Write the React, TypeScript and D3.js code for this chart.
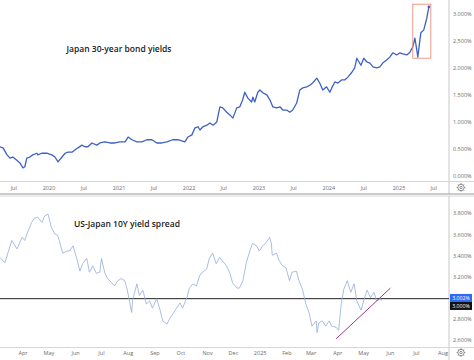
import React from "react";
import * as d3 from "d3";

// ---------- Japan 30-year bond yield (%) ----------
const jgbDates = [
  "2019-04-20","2019-05-06","2019-05-27","2019-06-11","2019-06-26","2019-07-17","2019-08-02","2019-08-18","2019-08-28","2019-09-07",
  "2019-09-23","2019-10-08","2019-10-30","2019-11-04","2019-11-24","2019-12-20","2020-01-16","2020-02-01","2020-02-17","2020-03-09",
  "2020-03-25","2020-04-09","2020-04-30","2020-05-15","2020-05-31","2020-06-21","2020-07-07","2020-07-22","2020-08-12","2020-09-07",
  "2020-09-23","2020-10-19","2020-11-14","2020-12-10","2021-01-06","2021-02-01","2021-02-17","2021-03-09","2021-04-04","2021-04-30",
  "2021-05-26","2021-06-21","2021-07-17","2021-08-12","2021-09-07","2021-10-08","2021-11-04","2021-12-10","2021-12-26","2022-01-16",
  "2022-02-01","2022-02-17","2022-02-27","2022-03-14","2022-04-04","2022-04-20","2022-05-06","2022-05-26","2022-06-11","2022-06-26",
  "2022-07-17","2022-08-02","2022-08-18","2022-09-07","2022-09-23","2022-10-08","2022-10-19","2022-11-04","2022-11-24","2022-11-30",
  "2022-12-10","2022-12-26","2023-01-06","2023-01-21","2023-02-11","2023-02-27","2023-03-14","2023-04-04","2023-04-20","2023-05-06",
  "2023-05-26","2023-06-11","2023-06-26","2023-07-17","2023-08-02","2023-08-18","2023-09-07","2023-09-23","2023-10-08","2023-10-30",
  "2023-11-14","2023-11-30","2023-12-20","2024-01-06","2024-01-16","2024-02-01","2024-02-17","2024-03-09","2024-03-25","2024-04-09",
  "2024-04-30","2024-05-15","2024-05-26","2024-06-16","2024-07-01","2024-07-17","2024-08-02","2024-08-18","2024-09-07","2024-09-23",
  "2024-10-08","2024-10-30","2024-11-14","2024-11-30","2024-12-20","2025-01-06","2025-01-21","2025-02-11","2025-02-27","2025-03-14",
  "2025-03-25","2025-04-04","2025-04-09","2025-04-25","2025-05-10","2025-05-26","2025-06-06"
];
const jgbValues = [
  0.56,0.54,0.41,0.35,0.37,0.31,0.26,0.17,0.19,0.35,
  0.37,0.41,0.44,0.41,0.44,0.44,0.41,0.37,0.28,0.37,
  0.44,0.46,0.46,0.50,0.54,0.59,0.56,0.56,0.63,0.59,
  0.63,0.65,0.63,0.63,0.65,0.65,0.74,0.69,0.65,0.65,
  0.69,0.69,0.63,0.63,0.65,0.69,0.69,0.65,0.74,0.78,
  0.91,0.93,0.87,0.93,0.96,1.00,0.96,1.02,1.30,1.28,
  1.20,1.15,1.09,1.28,1.30,1.43,1.57,1.46,1.39,1.48,
  1.39,1.57,1.61,1.56,1.52,1.43,1.30,1.28,1.30,1.24,
  1.24,1.20,1.24,1.37,1.61,1.65,1.67,1.70,1.74,1.83,
  1.74,1.61,1.67,1.57,1.65,1.76,1.74,1.80,1.80,1.85,
  1.94,2.02,2.20,2.07,2.20,2.13,2.11,2.04,2.02,2.04,
  2.11,2.17,2.22,2.30,2.26,2.30,2.28,2.26,2.31,2.41,
  2.57,2.35,2.22,2.67,2.72,2.94,3.15
];
const jgbTicks = [0, 0.5, 1.0, 1.5, 2.0, 2.5, 3.0];
const topTimeLabels = ["Jul","2020","Jul","2021","Jul","2022","Jul","2023","Jul","2024","Jul","2025","Jul"];
const topTimeDates = ["2019-07-01","2020-01-01","2020-07-01","2021-01-01","2021-07-01","2022-01-01","2022-07-01","2023-01-01","2023-07-01","2024-01-01","2024-07-01","2025-01-01","2025-07-01"];
const highlightDates = ["2025-03-14","2025-06-16"];
const highlightValues = [2.2, 3.2];

// ---------- US-Japan 10Y yield spread (%) ----------
const spreadDates = [
  "2024-03-05","2024-03-11","2024-03-19","2024-03-25","2024-03-31","2024-04-03","2024-04-06","2024-04-11","2024-04-14","2024-04-18",
  "2024-04-23","2024-04-26","2024-04-30","2024-05-04","2024-05-08","2024-05-11","2024-05-13","2024-05-17","2024-05-22","2024-05-25",
  "2024-05-29","2024-06-02","2024-06-06","2024-06-09","2024-06-14","2024-06-17","2024-06-21","2024-06-25","2024-06-29","2024-07-01",
  "2024-07-05","2024-07-08","2024-07-13","2024-07-16","2024-07-20","2024-07-24","2024-07-28","2024-07-31","2024-08-05","2024-08-06",
  "2024-08-11","2024-08-14","2024-08-18","2024-08-22","2024-08-26","2024-08-29","2024-09-03","2024-09-07","2024-09-10","2024-09-15",
  "2024-09-18","2024-09-22","2024-09-26","2024-09-30","2024-10-03","2024-10-08","2024-10-11","2024-10-15","2024-10-19","2024-10-23",
  "2024-10-26","2024-10-31","2024-11-03","2024-11-07","2024-11-11","2024-11-15","2024-11-18","2024-11-23","2024-11-27","2024-11-30",
  "2024-12-05","2024-12-08","2024-12-12","2024-12-16","2024-12-20","2024-12-23","2024-12-28","2024-12-31","2025-01-04","2025-01-08",
  "2025-01-12","2025-01-14","2025-01-15","2025-01-20","2025-01-23","2025-01-27","2025-01-31","2025-02-04","2025-02-07","2025-02-12",
  "2025-02-15","2025-02-19","2025-02-23","2025-02-27","2025-03-02","2025-03-07","2025-03-08","2025-03-10","2025-03-14","2025-03-18",
  "2025-03-22","2025-03-25","2025-03-30","2025-04-02","2025-04-05","2025-04-08","2025-04-12","2025-04-16","2025-04-20","2025-04-23",
  "2025-04-28","2025-05-01","2025-05-05","2025-05-09","2025-05-13","2025-05-16","2025-05-21","2025-05-22"
];
const spreadValues = [
  3.39,3.34,3.55,3.47,3.58,3.55,3.62,3.72,3.76,3.77,
  3.72,3.78,3.80,3.67,3.61,3.60,3.55,3.43,3.45,3.45,
  3.50,3.39,3.26,3.33,3.38,3.25,3.31,3.24,3.25,3.38,
  3.24,3.19,3.15,3.12,3.17,3.19,3.17,3.08,2.87,2.98,
  3.14,3.03,3.08,2.95,2.98,2.91,3.00,2.89,2.79,2.76,
  2.81,2.86,2.91,2.96,2.91,3.01,3.10,3.14,3.12,3.22,
  3.25,3.28,3.38,3.43,3.33,3.39,3.36,3.31,3.24,3.15,
  3.10,3.10,3.17,3.34,3.45,3.52,3.50,3.45,3.50,3.53,
  3.58,3.52,3.41,3.43,3.36,3.31,3.29,3.17,3.25,3.26,
  3.17,3.09,2.95,2.86,2.74,2.79,2.68,2.77,2.79,2.74,
  2.79,2.74,2.73,2.70,2.95,3.09,3.17,3.06,3.14,2.98,
  2.89,2.98,3.08,3.01,3.06,2.98,3.00,2.98
];
const spreadTicks = [2.6, 2.8, 3.2, 3.4, 3.6, 3.8];
const spreadLevel = 3.0;
const spreadLastTag = 3.002;
const bottomTimeLabels = ["Apr","May","Jun","Jul","Aug","Sep","Oct","Nov","Dec","2025","Feb","Mar","Apr","May","Jun","Jul","Aug"];
const bottomTimeDates = ["2024-04-01","2024-05-01","2024-06-01","2024-07-01","2024-08-01","2024-09-01","2024-10-01","2024-11-01","2024-12-01","2025-01-01","2025-02-01","2025-03-01","2025-04-01","2025-05-01","2025-06-01","2025-07-01","2025-08-01"];
const trendDates = ["2025-03-30","2025-06-01"];
const trendValues = [2.62, 3.10];

const W = 474;
const H = 360;
const AXIS_X = 449;
const FONT = "'Open Sans', 'DejaVu Sans', sans-serif";
const pd = (s: string) => new Date(s + "T00:00:00Z");

function Gear({ cx, cy }: { cx: number; cy: number }) {
  const teeth = d3.range(8).map((i) => (i * Math.PI) / 4);
  return (
    <g stroke="#777" fill="none" strokeWidth={0.8}>
      <circle cx={cx} cy={cy} r={3.2} />
      <circle cx={cx} cy={cy} r={1.2} />
      {teeth.map((a, i) => (
        <line key={i} x1={cx + Math.cos(a) * 3.2} y1={cy + Math.sin(a) * 3.2} x2={cx + Math.cos(a) * 4.4} y2={cy + Math.sin(a) * 4.4} />
      ))}
    </g>
  );
}

export default function App() {
  // top panel
  const topX = d3.scaleTime().domain([pd("2020-01-01"), pd("2025-01-01")]).range([49, 399]);
  const topY = d3.scaleLinear().domain([0, 3]).range([177, 15]);
  const topLine = d3
    .line<number>()
    .x((_, i) => topX(pd(jgbDates[i])))
    .y((v) => topY(v));

  // bottom panel
  const botX = d3.scaleTime().domain([pd("2024-04-01"), pd("2025-08-01")]).range([23, 443]);
  const botY = d3.scaleLinear().domain([2.6, 3.8]).range([341, 214]);
  const botLine = d3
    .line<number>()
    .x((_, i) => botX(pd(spreadDates[i])))
    .y((v) => botY(v));

  const lastI = jgbValues.length - 1;
  const bx0 = topX(pd(highlightDates[0]));
  const bx1 = topX(pd(highlightDates[1]));
  const by0 = topY(highlightValues[1]);
  const by1 = topY(highlightValues[0]);

  const levelY = botY(spreadLevel);
  const tagY = botY(spreadLastTag);

  return (
    <svg width={W} height={H} style={{ position: "absolute", left: 0, top: 0, background: "#fff" }} fontFamily={FONT}>
      <defs>
        <clipPath id="clipTop"><rect x={0} y={0} width={AXIS_X} height={181} /></clipPath>
        <clipPath id="clipBot"><rect x={0} y={197} width={AXIS_X} height={150} /></clipPath>
      </defs>
      <rect x={0} y={0} width={W} height={H} fill="#fff" />

      {/* ===== TOP PANEL ===== */}
      <line x1={AXIS_X} x2={AXIS_X} y1={0} y2={194} stroke="#c8c8c8" strokeWidth={1} />
      <line x1={0} x2={W} y1={181.5} y2={181.5} stroke="#d6d6d6" strokeWidth={1} />
      {jgbTicks.map((t) => (
        <text key={t} x={453} y={topY(t)} fontSize={5.5} fill="#6a6a6a" dominantBaseline="middle">
          {t.toFixed(3)}%
        </text>
      ))}
      {topTimeLabels.map((l, i) => (
        <text key={i} x={topX(pd(topTimeDates[i]))} y={189.5} fontSize={5.5} fill="#6a6a6a" textAnchor="middle">
          {l}
        </text>
      ))}
      <Gear cx={461} cy={187.5} />
      <text x={119} y={50} fontSize={8.5} fontWeight={600} fill="#1a1a1a" textAnchor="middle" dominantBaseline="middle">
        Japan 30-year bond yields
      </text>
      <g clipPath="url(#clipTop)">
        <path d={topLine(jgbValues) || ""} fill="none" stroke="#3d62c4" strokeWidth={1.3} strokeLinejoin="round" />
        <circle cx={topX(pd(jgbDates[lastI]))} cy={topY(jgbValues[lastI])} r={1.3} fill="#3d62c4" />
        <rect x={bx0} y={by0} width={bx1 - bx0} height={by1 - by0} fill="none" stroke="#e8907c" strokeWidth={0.9} />
      </g>

      {/* separator */}
      <line x1={0} x2={W} y1={194} y2={194} stroke="#9a9a9a" strokeWidth={1.2} />
      <line x1={0} x2={W} y1={196} y2={196} stroke="#d0d0d0" strokeWidth={0.8} />

      {/* ===== BOTTOM PANEL ===== */}
      <line x1={AXIS_X} x2={AXIS_X} y1={196} y2={H} stroke="#c8c8c8" strokeWidth={1} />
      <line x1={0} x2={W} y1={347.5} y2={347.5} stroke="#d6d6d6" strokeWidth={1} />
      {spreadTicks.map((t) => (
        <text key={t} x={453} y={botY(t)} fontSize={5.5} fill="#6a6a6a" dominantBaseline="middle">
          {t.toFixed(3)}%
        </text>
      ))}
      {bottomTimeLabels.map((l, i) => (
        <text key={i} x={botX(pd(bottomTimeDates[i]))} y={354.5} fontSize={5.5} fill="#6a6a6a" textAnchor="middle">
          {l}
        </text>
      ))}
      <Gear cx={461} cy={352.5} />
      <text x={127} y={225} fontSize={8.5} fontWeight={600} fill="#1a1a1a" textAnchor="middle" dominantBaseline="middle">
        US-Japan 10Y yield spread
      </text>
      <g clipPath="url(#clipBot)">
        <line x1={0} x2={AXIS_X} y1={levelY} y2={levelY} stroke="#222" strokeWidth={1} />
        <path d={botLine(spreadValues) || ""} fill="none" stroke="#94acdc" strokeWidth={0.8} strokeLinejoin="round" />
        <line
          x1={botX(pd(trendDates[0]))}
          y1={botY(trendValues[0])}
          x2={botX(pd(trendDates[1]))}
          y2={botY(trendValues[1])}
          stroke="#a8378f"
          strokeWidth={1}
        />
      </g>
      <rect x={450} y={tagY - 4.5} width={22} height={8} fill="#2f6bf2" />
      <text x={461} y={tagY - 0.3} fontSize={5.2} fill="#fff" textAnchor="middle" dominantBaseline="middle">
        {spreadLastTag.toFixed(3)}%
      </text>
      <rect x={450} y={tagY + 3.5} width={22} height={8} fill="#111" />
      <text x={461} y={tagY + 7.7} fontSize={5.2} fill="#fff" textAnchor="middle" dominantBaseline="middle">
        {spreadLevel.toFixed(3)}%
      </text>
    </svg>
  );
}
